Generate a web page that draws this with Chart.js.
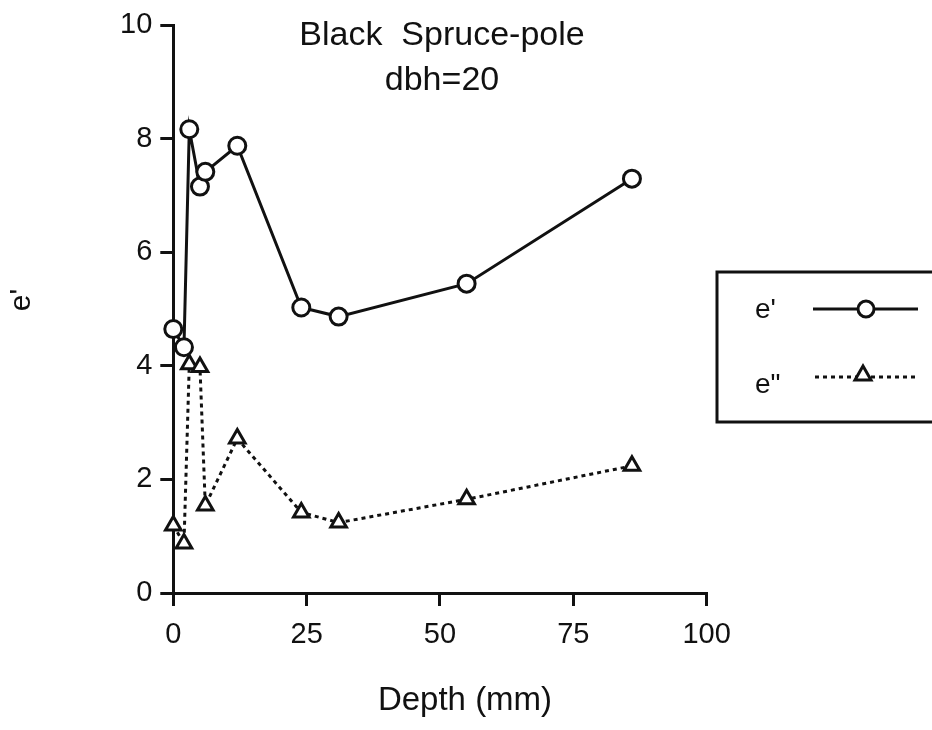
<!DOCTYPE html>
<html>
<head>
<meta charset="utf-8">
<script src="https://cdn.jsdelivr.net/npm/chart.js@4.4.1/dist/chart.umd.min.js"></script>
<style>
html,body{margin:0;padding:0;background:#fff;}
#wrap{width:932px;height:730px;}
</style>
</head>
<body>
<div id="wrap"><canvas id="c" width="932" height="730"></canvas></div>
<script>
const depth = [0, 2, 3, 5, 6, 12, 24, 31, 55, 86];
const ePrime = [4.65, 4.33, 8.17, 7.16, 7.42, 7.88, 5.03, 4.87, 5.45, 7.3];
const eDoublePrime = [1.19, 0.87, 4.03, 3.98, 1.54, 2.72, 1.42, 1.24, 1.65, 2.24];
const xTicks = [0, 25, 50, 75, 100];
const yTicks = [0, 2, 4, 6, 8, 10];
const titleLines = ["Black  Spruce-pole", "dbh=20"];
const xTitle = "Depth (mm)";
const yTitle = "e'";
const seriesNames = ["e'", "e\""];

const FONT = "'Liberation Sans', Arial, Helvetica, sans-serif";
const INK = '#111';

function pts(xs, ys){ return xs.map((x,i)=>({x:x, y:ys[i]})); }

const textPlugin = {
  id: 'titleAndLegend',
  afterDraw(chart){
    const ctx = chart.ctx;
    ctx.save();
    ctx.fillStyle = INK;
    ctx.textBaseline = 'alphabetic';
    ctx.textAlign = 'center';
    ctx.font = "34px " + FONT;
    ctx.fillText(titleLines[0], 442, 45);
    ctx.fillText(titleLines[1], 442, 90);

    // axis titles
    ctx.font = "33px " + FONT;
    ctx.fillText(xTitle, 465, 710);
    ctx.save();
    ctx.translate(30, 300);
    ctx.rotate(-Math.PI/2);
    ctx.font = "30px " + FONT;
    ctx.fillText(yTitle, 0, 0);
    ctx.restore();

    // legend box
    ctx.strokeStyle = INK;
    ctx.lineWidth = 3;
    ctx.setLineDash([]);
    ctx.strokeRect(717, 272, 240, 150);
    ctx.font = "28px " + FONT;
    ctx.textAlign = 'left';
    ctx.fillText(seriesNames[0], 755, 318);
    ctx.fillText(seriesNames[1], 755, 393);
    // e' sample
    ctx.beginPath(); ctx.moveTo(813, 309); ctx.lineTo(918, 309); ctx.stroke();
    ctx.beginPath(); ctx.arc(866, 309, 8, 0, Math.PI*2);
    ctx.fillStyle = '#fff'; ctx.fill(); ctx.stroke();
    // e'' sample
    ctx.setLineDash([4,4]);
    ctx.beginPath(); ctx.moveTo(815, 377); ctx.lineTo(915, 377); ctx.stroke();
    ctx.setLineDash([]);
    ctx.beginPath();
    ctx.moveTo(863, 366); ctx.lineTo(871, 380); ctx.lineTo(855, 380); ctx.closePath();
    ctx.fillStyle = '#fff'; ctx.fill(); ctx.stroke();
    ctx.restore();
  }
};

new Chart(document.getElementById('c'), {
  type: 'scatter',
  data: {
    datasets: [
      {
        label: seriesNames[0],
        data: pts(depth, ePrime),
        showLine: true,
        clip: false,
        borderColor: INK,
        borderWidth: 3,
        tension: 0,
        pointStyle: 'circle',
        pointRadius: 8.5,
        pointBorderWidth: 3,
        pointBackgroundColor: '#fff',
        pointBorderColor: INK
      },
      {
        label: seriesNames[1],
        data: pts(depth, eDoublePrime),
        showLine: true,
        clip: false,
        borderColor: INK,
        borderWidth: 3,
        borderDash: [4, 4],
        tension: 0,
        pointStyle: 'triangle',
        pointRadius: 9,
        pointBorderWidth: 3,
        pointBackgroundColor: '#fff',
        pointBorderColor: INK
      }
    ]
  },
  options: {
    responsive: false,
    animation: false,
    events: [],
    layout: { padding: { left: 0, right: 225.4, top: 20.5, bottom: 0 } },
    plugins: { legend: { display: false }, tooltip: { enabled: false }, title: { display: false } },
    scales: {
      x: {
        type: 'linear',
        min: 0, max: 100,
        afterBuildTicks(s){ s.ticks = xTicks.map(v=>({value:v})); },
        afterFit(s){ s.height = 137; },
        border: { display: true, color: INK, width: 3 },
        grid: { display: true, drawOnChartArea: false, drawTicks: true, tickLength: 13, color: INK, lineWidth: 3 },
        ticks: { color: INK, font: { family: FONT, size: 29 }, padding: 12, maxRotation: 0 }
      },
      y: {
        type: 'linear',
        min: 0, max: 10,
        afterBuildTicks(s){ s.ticks = yTicks.map(v=>({value:v})); },
        afterFit(s){ s.width = 173.3; },
        border: { display: true, color: INK, width: 3 },
        grid: { display: true, drawOnChartArea: false, drawTicks: true, tickLength: 13, color: INK, lineWidth: 3 },
        ticks: { color: INK, font: { family: FONT, size: 29 }, padding: 8 }
      }
    }
  },
  plugins: [textPlugin]
});
</script>
</body>
</html>
